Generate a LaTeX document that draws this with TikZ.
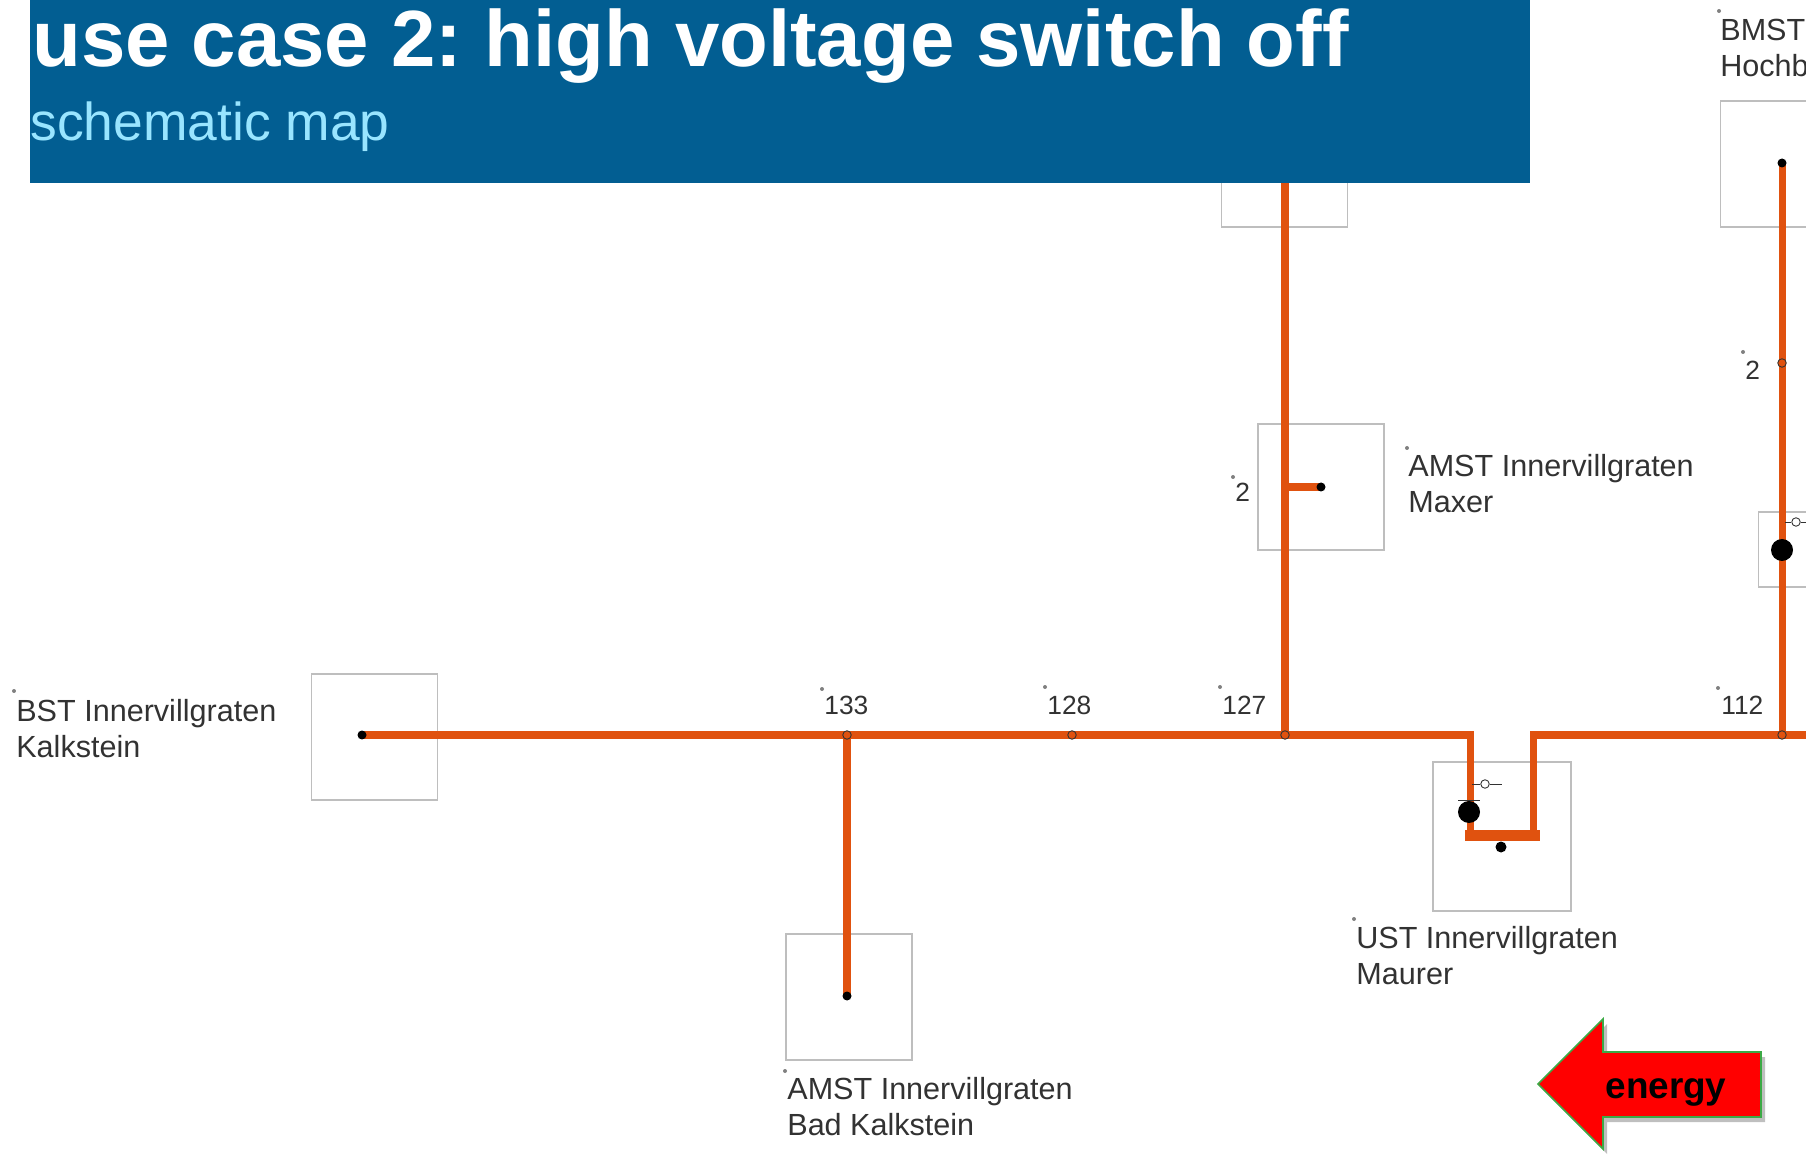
\documentclass[tikz,border=0pt]{standalone}
\usepackage{fontspec}
\setmainfont{Liberation Sans}
\usetikzlibrary{positioning,shadows}
\definecolor{BannerBlue}{RGB}{2,94,146}
\definecolor{SubtitleBlue}{RGB}{153,229,255}
\definecolor{LineOrange}{RGB}{224,82,15}
\definecolor{BoxGray}{RGB}{190,190,190}
\definecolor{LabelGray}{RGB}{50,50,50}
\definecolor{ArrowGreen}{RGB}{60,170,70}
\tikzset{
  stationbox/.style={draw=BoxGray,line width=0.9pt,minimum width=2.52cm,minimum height=2.52cm,inner sep=0pt},
  powerline/.style={draw=LineOrange,line width=4pt},
  blackdot/.style={circle,fill=black,inner sep=0pt,minimum size=0.18cm},
  bigdot/.style={circle,fill=black,inner sep=0pt,minimum size=0.44cm},
  junction/.style={circle,draw=LabelGray,fill=LineOrange,line width=0.5pt,inner sep=0pt,minimum size=0.17cm},
  switchring/.style={circle,draw=LabelGray,fill=white,line width=0.5pt,inner sep=0pt,minimum size=0.17cm},
  tickdot/.style={circle,fill=gray,inner sep=0pt,minimum size=0.08cm},
  stationlabel/.style={anchor=north west,inner sep=0pt,align=left,text=LabelGray,font=\fontsize{17.4}{20.4}\selectfont},
  numberlabel/.style={anchor=base west,inner sep=0pt,text=LabelGray,font=\fontsize{15}{18}\selectfont},
}

\begin{document}
\frenchspacing
\begin{tikzpicture}[x=0.02cm,y=-0.02cm]
    \clip (0,0) rectangle (1806,1158);
    % station boxes
    \node[stationbox] (boxbst) at (374.5,737) {};
    \node[stationbox] (boxbad) at (849,997) {};
    \node[stationbox,minimum width=2.76cm,minimum height=2.98cm] (boxust) at (1502,836.5) {};
    \node[stationbox] (boxmaxer) at (1321,487) {};
    \node[stationbox] (boxtop) at (1284.5,164) {};
    \node[stationbox] (boxbmst) at (1783.5,164) {};
    \node[stationbox,minimum height=1.5cm] (boxsmall) at (1821.5,549.5) {};
    % points of the line
    \coordinate (bst) at (362,735);
    \coordinate (j133) at (847,735);
    \coordinate (j128) at (1072,735);
    \coordinate (j127) at (1285,735);
    \coordinate (j112) at (1782,735);
    \coordinate (j2) at (1782,363);
    \coordinate (badend) at (847,996);
    \coordinate (maxerfork) at (1285,487);
    \coordinate (maxerend) at (1321,487);
    \coordinate (topend) at (1285,100);
    \coordinate (bmstend) at (1782,163);
    \coordinate (ustleft) at (1470,735);
    \coordinate (ustright) at (1533,735);
    \coordinate (ustbarleft) at (1465,835.5);
    \coordinate (ustbarright) at (1540,835.5);
    \coordinate (ustfootleft) at (1470,835.5);
    \coordinate (ustfootright) at (1533,835.5);
    \coordinate (rightend) at (1806,735);
    % lines
    \draw[powerline] (bst) -- (ustleft) -- (ustfootleft);
    \draw[powerline] (ustfootright) -- (ustright) -- (rightend);
    \draw[powerline,line width=6.2pt] (ustbarleft) -- (ustbarright);
    \draw[powerline] (j133) -- (badend);
    \draw[powerline] (topend) -- (j127);
    \draw[powerline] (maxerfork) -- (maxerend);
    \draw[powerline] (bmstend) -- (j112);
    % switches
    \node[switchring] (ringust) at (1485,784) {};
    \node[switchring] (ringsmall) at (1796,522) {};
    \coordinate (ustswitchstart) at (1472,784);
    \coordinate (ustswitchend) at (1502,784);
    \coordinate (smallswitchstart) at (1785,522);
    \coordinate (smallswitchend) at (1806,522);
    \draw[LabelGray,line width=0.5pt] (ustswitchstart) -- (ringust) -- (ustswitchend);
    \draw[LabelGray,line width=0.5pt] (smallswitchstart) -- (ringsmall) -- (smallswitchend);
    \coordinate (ustcapleft) at (1458,800);
    \coordinate (ustcapright) at (1480,800);
    \draw[LabelGray,line width=0.5pt] (ustcapleft) -- (ustcapright);
    % dots
    \node[blackdot] (dotbst) at (bst) {};
    \node[blackdot] (dotbad) at (badend) {};
    \node[blackdot] (dotmaxer) at (maxerend) {};
    \node[blackdot] (dotbmst) at (bmstend) {};
    \node[blackdot,minimum size=0.22cm] (dotust) at (1501,847) {};
    \node[bigdot] (bigust) at (1469,812) {};
    \node[bigdot] (bigsmall) at (1782,550) {};
    \node[junction] (n133) at (j133) {};
    \node[junction] (n128) at (j128) {};
    \node[junction] (n127) at (j127) {};
    \node[junction] (n112) at (j112) {};
    \node[junction] (n2) at (j2) {};
    % labels
    \foreach \i/\x/\y in {a/14/691,b/785/1071,c/1354/919,d/1407/448,e/1719/11,f/822/689,g/1045/687,h/1220/687,k/1718/688,m/1743/352,n/1233/477}
      \node[tickdot] (tick\i) at (\x,\y) {};
    \node[stationlabel] (lblbst) at (16,699) {BST Innervillgraten\\Kalkstein};
    \node[stationlabel] (lblbad) at (787,1077) {AMST Innervillgraten\\Bad Kalkstein};
    \node[stationlabel] (lblust) at (1356,926) {UST Innervillgraten\\Maurer};
    \node[stationlabel] (lblmaxer) at (1408,454) {AMST Innervillgraten\\Maxer};
    \node[stationlabel] (lblbmst) at (1720,19) {BMST\\Hochb};
    \node[numberlabel] (lbl133) at (824,714) {133};
    \node[numberlabel] (lbl128) at (1047,714) {128};
    \node[numberlabel] (lbl127) at (1222,714) {127};
    \node[numberlabel] (lbl112) at (1721,714) {112};
    \node[numberlabel] (lbltwoa) at (1235,502) {2};
    \node[numberlabel] (lbltwob) at (1745,380) {2};
    % energy arrow
    \draw[fill=red,draw=ArrowGreen,line width=0.9pt,drop shadow={shadow xshift=0.08cm,shadow yshift=-0.1cm,opacity=0.5}]
      (1538,1084) -- (1603,1019) -- (1603,1052) -- (1761,1052) -- (1761,1117) -- (1603,1117) -- (1603,1149) -- cycle;
    \node[anchor=base,inner sep=0pt,font=\fontsize{21}{24}\selectfont\bfseries] (energy) at (1666,1098) {energy};
    % banner
    \fill[BannerBlue] (30,0) rectangle (1530,183);
    \node[anchor=base west,inner sep=0pt,text=white,font=\fontsize{45.4}{50}\selectfont\bfseries] (title) at (32,67) {use case 2: high voltage switch off};
    \node[anchor=base west,inner sep=0pt,text=SubtitleBlue,font=\fontsize{30.4}{34}\selectfont] (subtitle) at (30,141) {schematic map};
\end{tikzpicture}
\end{document}
